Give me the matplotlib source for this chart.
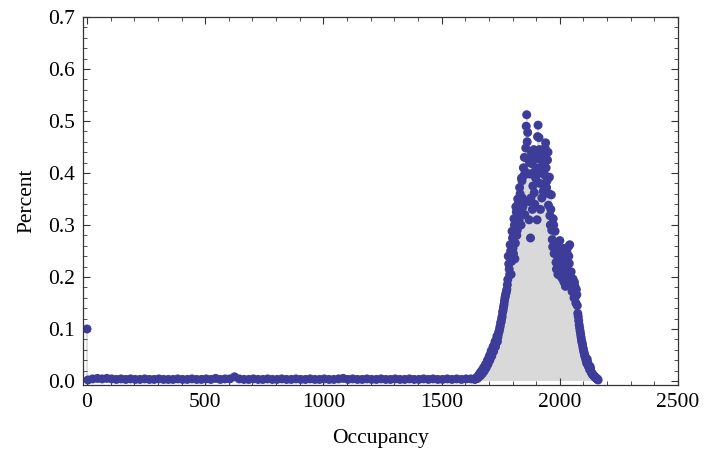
import numpy as np
import matplotlib.pyplot as plt
from matplotlib.ticker import MultipleLocator, FormatStrFormatter

plt.rcParams['font.family'] = ['Liberation Serif', 'DejaVu Serif']

# Пустое состояние (occupancy = 0)
zero_occ = [0]
zero_pct = [0.100]

# Плоский участок: occupancy 4, 24, ... , 1624
flat_pct = [0.002, 0.004, 0.005, 0.004, 0.005, 0.004, 0.003, 0.004, 0.003, 0.004,
            0.003, 0.003, 0.004, 0.003, 0.003, 0.004, 0.003, 0.003, 0.003, 0.004,
            0.003, 0.003, 0.004, 0.003, 0.003, 0.004, 0.003, 0.005, 0.003, 0.004,
            0.004, 0.008, 0.004, 0.003, 0.003, 0.004, 0.003, 0.003, 0.004, 0.003,
            0.003, 0.004, 0.003, 0.003, 0.004, 0.003, 0.003, 0.004, 0.003, 0.003,
            0.004, 0.003, 0.003, 0.004, 0.005, 0.003, 0.004, 0.003, 0.003, 0.004,
            0.003, 0.003, 0.004, 0.003, 0.003, 0.004, 0.003, 0.003, 0.004, 0.003,
            0.003, 0.004, 0.003, 0.004, 0.003, 0.003, 0.004, 0.003, 0.004, 0.003,
            0.004, 0.004]
flat_occ = 4 + 20 * np.arange(len(flat_pct))

# Пик, чётные шаги: occupancy 1640, 1644, ... , 2160
peak_pct_a = [0.003, 0.004, 0.006, 0.005, 0.008, 0.012, 0.010, 0.017, 0.014, 0.022,
              0.019, 0.028, 0.025, 0.036, 0.032, 0.044, 0.040, 0.053, 0.048, 0.060,
              0.057, 0.070, 0.066, 0.080, 0.076, 0.090, 0.097, 0.106, 0.114, 0.124,
              0.136, 0.147, 0.160, 0.168, 0.176, 0.195, 0.225, 0.205, 0.250, 0.230,
              0.275, 0.245, 0.300, 0.265, 0.325, 0.290, 0.340, 0.310, 0.360, 0.300,
              0.385, 0.335, 0.395, 0.320, 0.448, 0.512, 0.478, 0.345, 0.420, 0.275,
              0.440, 0.330, 0.400, 0.362, 0.432, 0.410, 0.310, 0.492, 0.468, 0.380,
              0.425, 0.352, 0.412, 0.442, 0.396, 0.458, 0.372, 0.425, 0.338, 0.392,
              0.300, 0.358, 0.272, 0.312, 0.245, 0.288, 0.228, 0.262, 0.205, 0.242,
              0.270, 0.218, 0.232, 0.196, 0.255, 0.214, 0.182, 0.236, 0.196, 0.258,
              0.226, 0.186, 0.210, 0.172, 0.196, 0.160, 0.182, 0.150, 0.166, 0.130,
              0.116, 0.102, 0.090, 0.078, 0.070, 0.060, 0.052, 0.046, 0.038, 0.042,
              0.030, 0.026, 0.028, 0.018, 0.015, 0.012, 0.010, 0.008, 0.006, 0.005,
              0.003]
peak_occ_a = 1640 + 4 * np.arange(len(peak_pct_a))

# Пик, промежуточные шаги: occupancy 1642, 1646, ... , 2162
peak_pct_b = [0.004, 0.005, 0.007, 0.009, 0.011, 0.015, 0.013, 0.020, 0.018, 0.026,
              0.023, 0.032, 0.029, 0.040, 0.037, 0.048, 0.045, 0.058, 0.054, 0.066,
              0.063, 0.076, 0.072, 0.086, 0.084, 0.094, 0.102, 0.112, 0.120, 0.132,
              0.142, 0.154, 0.164, 0.172, 0.185, 0.240, 0.215, 0.262, 0.205, 0.288,
              0.255, 0.312, 0.235, 0.335, 0.280, 0.350, 0.325, 0.372, 0.345, 0.390,
              0.352, 0.410, 0.430, 0.402, 0.490, 0.460, 0.428, 0.310, 0.398, 0.352,
              0.418, 0.375, 0.445, 0.340, 0.390, 0.428, 0.470, 0.405, 0.445, 0.330,
              0.400, 0.436, 0.365, 0.420, 0.448, 0.410, 0.385, 0.440, 0.360, 0.318,
              0.330, 0.290, 0.258, 0.300, 0.262, 0.246, 0.215, 0.232, 0.250, 0.212,
              0.246, 0.200, 0.222, 0.240, 0.190, 0.225, 0.205, 0.248, 0.212, 0.240,
              0.262, 0.200, 0.186, 0.180, 0.172, 0.190, 0.162, 0.176, 0.145, 0.124,
              0.108, 0.096, 0.084, 0.074, 0.064, 0.056, 0.048, 0.042, 0.034, 0.036,
              0.028, 0.022, 0.024, 0.016, 0.013, 0.011, 0.009, 0.007, 0.005, 0.004,
              0.002]
peak_occ_b = 1642 + 4 * np.arange(len(peak_pct_b))

occ = np.concatenate([zero_occ, flat_occ, peak_occ_a, peak_occ_b])
pct = np.concatenate([zero_pct, flat_pct, peak_pct_a, peak_pct_b])

fig = plt.figure(figsize=(7.04, 4.57), dpi=100)
ax = fig.add_axes([83 / 704, 72 / 457, 595 / 704, 368 / 457])

# Заливка до оси и точки
ax.vlines(occ, 0, pct, color='#d9d9d9', linewidth=1.2, zorder=1)
ax.scatter(occ, pct, s=42, color='#3d3d99', edgecolors='none', zorder=2)

ax.set_xlim(-17, 2500)
ax.set_ylim(-0.0077, 0.7)

ax.xaxis.set_major_locator(MultipleLocator(500))
ax.xaxis.set_minor_locator(MultipleLocator(100))
ax.yaxis.set_major_locator(MultipleLocator(0.1))
ax.yaxis.set_minor_locator(MultipleLocator(0.02))
ax.yaxis.set_major_formatter(FormatStrFormatter('%.1f'))

ax.tick_params(which='both', direction='in', top=True, right=True,
               labelsize=15.5, color='#333333')
ax.tick_params(which='major', length=5, width=0.8, pad=6)
ax.tick_params(which='minor', length=3, width=0.6)
for s in ax.spines.values():
    s.set_linewidth(0.9)
    s.set_color('#333333')

ax.set_xlabel('Occupancy', fontsize=15.5, labelpad=12)
ax.set_ylabel('Percent', fontsize=15.5, labelpad=8)

plt.savefig('out.png', dpi=100)
